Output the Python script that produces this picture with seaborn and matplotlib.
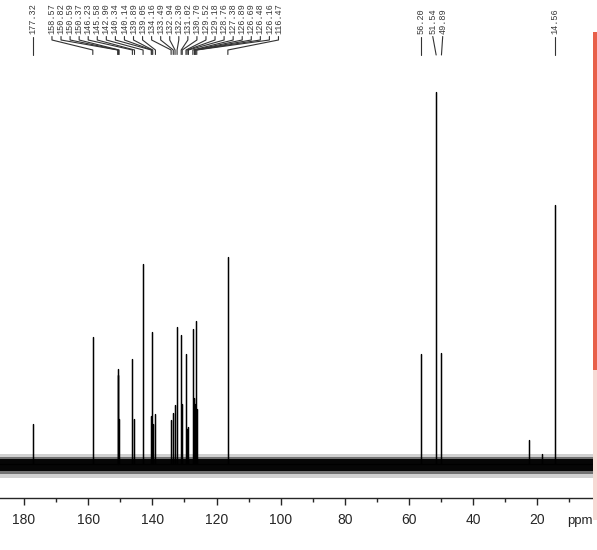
import numpy as np
import pandas as pd
import matplotlib.pyplot as plt
from matplotlib.patches import Rectangle
import seaborn as sns

# 13C peaks (ppm) and heights (relative, tallest = 100)
shifts = [177.32, 158.57, 150.82, 150.59, 150.37, 146.23, 145.58, 142.90,
          140.34, 140.14, 139.89, 139.05, 134.16, 133.49, 132.94, 132.30,
          131.02, 130.70, 129.52, 129.18, 128.76, 127.38, 126.89, 126.69,
          126.48, 126.16, 116.47, 56.20, 51.54, 49.89, 14.56]
heights = [10.8, 34.1, 25.5, 23.9, 12.0, 28.2, 12.1, 53.8,
           12.9, 35.5, 10.8, 13.4, 11.8, 13.7, 15.9, 36.8,
           34.7, 16.1, 29.6, 9.4, 10.0, 36.3, 17.7, 16.0,
           38.4, 14.8, 55.6, 29.6, 100.0, 29.8, 69.6]

# small unlabelled peaks
extra_shifts = [22.6, 18.5]
extra_heights = [6.5, 2.7]

# label groups
single_labels = [177.32, 56.20, 14.56]
cluster_labels = shifts[1:27]
pair_labels = [51.54, 49.89]

sns.set_style('white')
plt.rcParams['font.family'] = ['Liberation Sans', 'DejaVu Sans']

W, H = 597, 550
fig = plt.figure(figsize=(W / 100, H / 100), dpi=100)
ax_bottom_px = 498
ax = fig.add_axes([0, (H - ax_bottom_px) / H, 593 / W, ax_bottom_px / H])

# pixel scale: 372 px for 100 units, baseline at pixel 464
unit = 3.72
base_px = 464
ax.set_ylim(-(ax_bottom_px - base_px) / unit, base_px / unit)
ax.set_xlim(187.5, 2.65)

# stick spectrum
all_s = shifts + extra_shifts
all_h = heights + extra_heights
order = np.argsort(all_s)[::-1]
xs, ys = [187.5], [0.0]
for i in order:
    xs += [all_s[i], all_s[i], all_s[i]]
    ys += [0.0, all_h[i], 0.0]
xs.append(2.65)
ys.append(0.0)
spec = pd.DataFrame({'ppm': xs, 'intensity': ys})
sns.lineplot(data=spec, x='ppm', y='intensity', sort=False, estimator=None,
             color='black', linewidth=0.9, ax=ax)

# baseline noise band
band_x = [187.5, 2.65]
ax.fill_between(band_x, -3.8, 2.8, color='black', alpha=0.18, linewidth=0)
ax.fill_between(band_x, -2.8, 2.0, color='black', alpha=0.45, linewidth=0)
ax.fill_between(band_x, -1.8, 1.3, color='black', alpha=0.95, linewidth=0)

ax.set_xlabel('')
ax.set_ylabel('')
for s in ['top', 'left', 'right']:
    ax.spines[s].set_visible(False)
ax.spines['bottom'].set_linewidth(1.0)
ax.set_yticks([])
ax.set_xticks(range(180, 0, -20))
ax.set_xticks(range(170, 0, -20), minor=True)
ax.tick_params(axis='x', which='major', direction='out', length=5, width=1,
               pad=6, labelsize=10, bottom=True)
ax.tick_params(axis='x', which='minor', direction='out', length=3, width=1,
               bottom=True)

# peak labels at the top
trans = ax.get_xaxis_transform()


def fy(py):
    return (ax_bottom_px - py) / ax_bottom_px


lab_kw = dict(rotation=90, ha='center', va='bottom', fontsize=6.2,
              family='Liberation Mono', color='#3a3a3a', transform=trans)
lead_kw = dict(color='#333333', linewidth=0.8, transform=trans, clip_on=False)

for s in single_labels:
    ax.text(s, fy(34), f'{s:.2f}', **lab_kw)
    ax.plot([s, s], [fy(36.5), fy(55)], **lead_kw)

lab_x = np.linspace(171.3, 100.7, len(cluster_labels))
for lx, s in zip(lab_x, cluster_labels):
    ax.text(lx, fy(34), f'{s:.2f}', **lab_kw)
    ax.plot([lx, lx, s, s], [fy(36.5), fy(40), fy(50), fy(54.5)], **lead_kw)

for lx, s in zip([52.6, 49.5], pair_labels):
    ax.text(lx, fy(34), f'{s:.2f}', **lab_kw)
    ax.plot([lx, s], [fy(36.5), fy(55)], **lead_kw)

fig.text(567 / W, (H - 521) / H, 'ppm', fontsize=9.5, ha='left', va='center')

# window scroll bar at the right edge
fig.add_artist(Rectangle((593 / W, (H - 520) / H), 4 / W, 150 / H,
                         transform=fig.transFigure, facecolor='#f7d9d4',
                         edgecolor='none', zorder=5))
fig.add_artist(Rectangle((593 / W, (H - 370) / H), 4 / W, 338 / H,
                         transform=fig.transFigure, facecolor='#e8604a',
                         edgecolor='none', zorder=5))
fig.add_artist(Rectangle((592.5 / W, (H - 520) / H), 0.8 / W, 488 / H,
                         transform=fig.transFigure, facecolor='#7a4a40',
                         edgecolor='none', zorder=6))

fig.savefig('out.png', dpi=100)
